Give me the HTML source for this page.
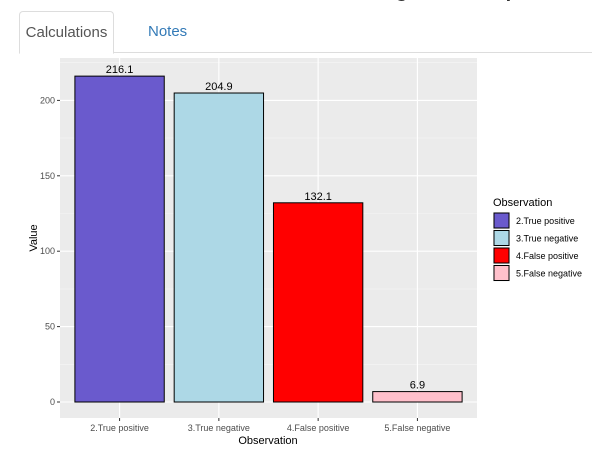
<!DOCTYPE html>
<html><head><meta charset="utf-8"><style>
body{margin:0;width:592px;height:453px;overflow:hidden;background:#fff;font-family:"Liberation Sans",Arial,sans-serif;position:relative}
.tabline{position:absolute;left:19px;right:0;top:52px;height:1px;background:#ddd}
.tab{position:absolute;top:11px;height:41px;font-size:15px;line-height:41px}
.active{left:19px;width:93px;border:1px solid #ddd;border-bottom:1px solid #fff;border-radius:4px 4px 0 0;background:#fff;text-align:center;color:#555;z-index:2}
.notes{left:148px;color:#337ab7}
.title{position:absolute;top:-20px;left:230px;font-size:20px;font-weight:bold;color:#333}
svg{position:absolute;left:0;top:0}
</style></head><body>
<div class="title">Observation Categories Comparison</div>
<div class="tabline"></div>
<div class="tab active">Calculations</div>
<div class="tab notes">Notes</div>
<svg id="chart" width="592" height="453"></svg>
<script>
const categories=["2.True positive","3.True negative","4.False positive","5.False negative"];
const values=[216.1,204.9,132.1,6.9];
const colors=["#6a5acd","#add8e6","#ff0000","#ffc0cb"];
const yTicks=[0,50,100,150,200];
const svg=document.getElementById('chart');
const NS='http://www.w3.org/2000/svg';
function mk(t,a,p){const e=document.createElementNS(NS,t);for(const k in a)e.setAttribute(k,a[k]);(p||svg).appendChild(e);return e;}
const PL=60,PR=477,PT=58,PB=418;
const y=v=>402-v*1.508;
const band=(PR-PL)/(categories.length+0.2);
const x=i=>PL+band*(0.6+i);
let e=mk('rect',{x:PL,y:PT,width:PR-PL,height:PB-PT,fill:'#ebebeb'});


yTicks.forEach((t,i)=>{
 if(i<yTicks.length-1){const m=(t+yTicks[i+1])/2;mk('line',{x1:PL,x2:PR,y1:y(m),y2:y(m),stroke:'#f5f5f5','stroke-width':0.6});}
});
mk('line',{x1:PL,x2:PR,y1:y(225),y2:y(225),stroke:'#f5f5f5','stroke-width':0.6});
yTicks.forEach(t=>{
 mk('line',{x1:PL,x2:PR,y1:y(t),y2:y(t),stroke:'#fff','stroke-width':1.1});
 mk('line',{x1:PL-3,x2:PL,y1:y(t),y2:y(t),stroke:'#333'});
 const l=mk('text',{x:PL-5,y:y(t)+3,'text-anchor':'end','font-size':9,fill:'#4d4d4d'});l.textContent=t;
 
 
});
categories.forEach((c,i)=>{
 mk('line',{x1:x(i),x2:x(i),y1:PT,y2:PB,stroke:'#fff','stroke-width':1.1});
 mk('line',{x1:x(i),x2:x(i),y1:PB,y2:PB+3,stroke:'#333'});
 const l=mk('text',{x:x(i),y:PB+13,'text-anchor':'middle','font-size':9,fill:'#4d4d4d'});l.textContent=c;
 
 
});
const bw=band*0.9;
categories.forEach((c,i)=>{
 const r=mk('rect',{x:x(i)-bw/2,y:y(values[i]),width:bw,height:y(0)-y(values[i]),fill:colors[i],stroke:'#000','stroke-width':1});
 
 
 const t=mk('text',{x:x(i),y:y(values[i])-3,'text-anchor':'middle','font-size':11,fill:'#000'});t.textContent=values[i].toFixed(1);
 
 
});
let t=mk('text',{x:268,y:444,'text-anchor':'middle','font-size':11,fill:'#000'});t.textContent='Observation';


t=mk('text',{x:0,y:0,'text-anchor':'middle','font-size':11,fill:'#000',transform:'translate(37,238) rotate(-90)'});t.textContent='Value';


t=mk('text',{x:493,y:206,'font-size':11,fill:'#000'});t.textContent='Observation';


categories.forEach((c,i)=>{
 const g=mk('g',{});
 
 
 mk('rect',{x:493,y:212+i*17.5,width:17,height:17,fill:'#f2f2f2'},g);
 mk('rect',{x:494,y:213+i*17.5,width:15,height:15,fill:colors[i],stroke:'#000'},g);
 const l=mk('text',{x:516,y:224+i*17.5,'font-size':9,fill:'#000'},g);l.textContent=c;
});
</script>
</body></html>
